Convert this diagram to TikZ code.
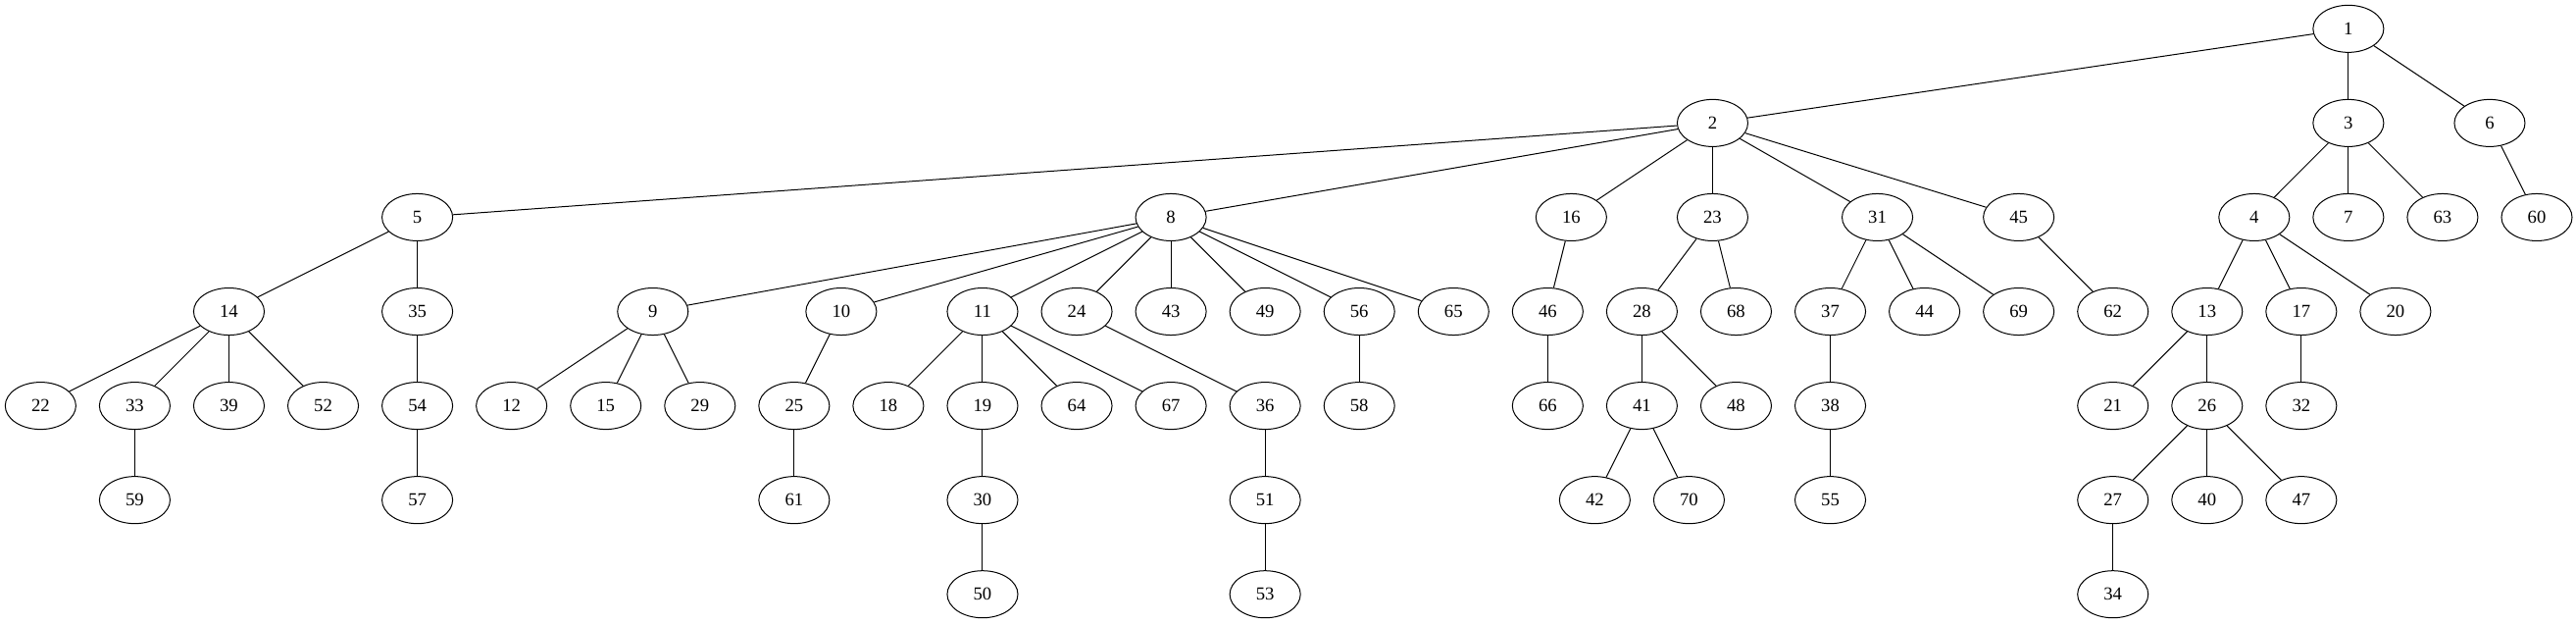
\documentclass[tikz,border=0pt]{standalone}
\usepackage{fontspec}
\setmainfont{Liberation Serif}
\usetikzlibrary{shapes.geometric}
\begin{document}
\begin{tikzpicture}[x=1pt,y=1pt,
  nd/.style={draw,ellipse,line width=0.75pt,minimum width=54pt,minimum height=36pt,inner sep=0pt,font=\fontsize{14}{16}\selectfont},
  ed/.style={line width=0.75pt}]
\useasboundingbox (0,0) rectangle (1969,476);
% rank 0
\node[nd] (n1) at (1795,454) {1};
% rank 1
\node[nd] (n2) at (1309,382) {2};
\node[nd] (n3) at (1795,382) {3};
\node[nd] (n6) at (1903,382) {6};
% rank 2
\node[nd] (n5) at (319,310) {5};
\node[nd] (n8) at (895,310) {8};
\node[nd] (n16) at (1201,310) {16};
\node[nd] (n23) at (1309,310) {23};
\node[nd] (n31) at (1435,310) {31};
\node[nd] (n45) at (1543,310) {45};
\node[nd] (n4) at (1723,310) {4};
\node[nd] (n7) at (1795,310) {7};
\node[nd] (n63) at (1867,310) {63};
\node[nd] (n60) at (1939,310) {60};
% rank 3
\node[nd] (n14) at (175,238) {14};
\node[nd] (n35) at (319,238) {35};
\node[nd] (n9) at (499,238) {9};
\node[nd] (n10) at (643,238) {10};
\node[nd] (n11) at (751,238) {11};
\node[nd] (n24) at (823,238) {24};
\node[nd] (n43) at (895,238) {43};
\node[nd] (n49) at (967,238) {49};
\node[nd] (n56) at (1039,238) {56};
\node[nd] (n65) at (1111,238) {65};
\node[nd] (n46) at (1183,238) {46};
\node[nd] (n28) at (1255,238) {28};
\node[nd] (n68) at (1327,238) {68};
\node[nd] (n37) at (1399,238) {37};
\node[nd] (n44) at (1471,238) {44};
\node[nd] (n69) at (1543,238) {69};
\node[nd] (n62) at (1615,238) {62};
\node[nd] (n13) at (1687,238) {13};
\node[nd] (n17) at (1759,238) {17};
\node[nd] (n20) at (1831,238) {20};
% rank 4
\node[nd] (n22) at (31,166) {22};
\node[nd] (n33) at (103,166) {33};
\node[nd] (n39) at (175,166) {39};
\node[nd] (n52) at (247,166) {52};
\node[nd] (n54) at (319,166) {54};
\node[nd] (n12) at (391,166) {12};
\node[nd] (n15) at (463,166) {15};
\node[nd] (n29) at (535,166) {29};
\node[nd] (n25) at (607,166) {25};
\node[nd] (n18) at (679,166) {18};
\node[nd] (n19) at (751,166) {19};
\node[nd] (n64) at (823,166) {64};
\node[nd] (n67) at (895,166) {67};
\node[nd] (n36) at (967,166) {36};
\node[nd] (n58) at (1039,166) {58};
\node[nd] (n66) at (1183,166) {66};
\node[nd] (n41) at (1255,166) {41};
\node[nd] (n48) at (1327,166) {48};
\node[nd] (n38) at (1399,166) {38};
\node[nd] (n21) at (1615,166) {21};
\node[nd] (n26) at (1687,166) {26};
\node[nd] (n32) at (1759,166) {32};
% rank 5
\node[nd] (n59) at (103,94) {59};
\node[nd] (n57) at (319,94) {57};
\node[nd] (n61) at (607,94) {61};
\node[nd] (n30) at (751,94) {30};
\node[nd] (n51) at (967,94) {51};
\node[nd] (n42) at (1219,94) {42};
\node[nd] (n70) at (1291,94) {70};
\node[nd] (n55) at (1399,94) {55};
\node[nd] (n27) at (1615,94) {27};
\node[nd] (n40) at (1687,94) {40};
\node[nd] (n47) at (1759,94) {47};
% rank 6
\node[nd] (n50) at (751,22) {50};
\node[nd] (n53) at (967,22) {53};
\node[nd] (n34) at (1615,22) {34};
% edges
\foreach \a/\b in {1/2,1/3,1/6,
  2/5,2/8,2/16,2/23,2/31,2/45,
  3/4,3/7,3/63,6/60,
  5/14,5/35,
  8/9,8/10,8/11,8/24,8/43,8/49,8/56,8/65,
  16/46,23/28,23/68,31/37,31/44,31/69,45/62,
  4/13,4/17,4/20,
  14/22,14/33,14/39,14/52,35/54,
  9/12,9/15,9/29,10/25,
  11/18,11/19,11/64,11/67,24/36,56/58,46/66,
  28/41,28/48,37/38,13/21,13/26,17/32,
  33/59,54/57,25/61,19/30,36/51,41/42,41/70,38/55,
  26/27,26/40,26/47,
  30/50,51/53,27/34}
  \draw[ed] (n\a) -- (n\b);
\end{tikzpicture}
\end{document}
